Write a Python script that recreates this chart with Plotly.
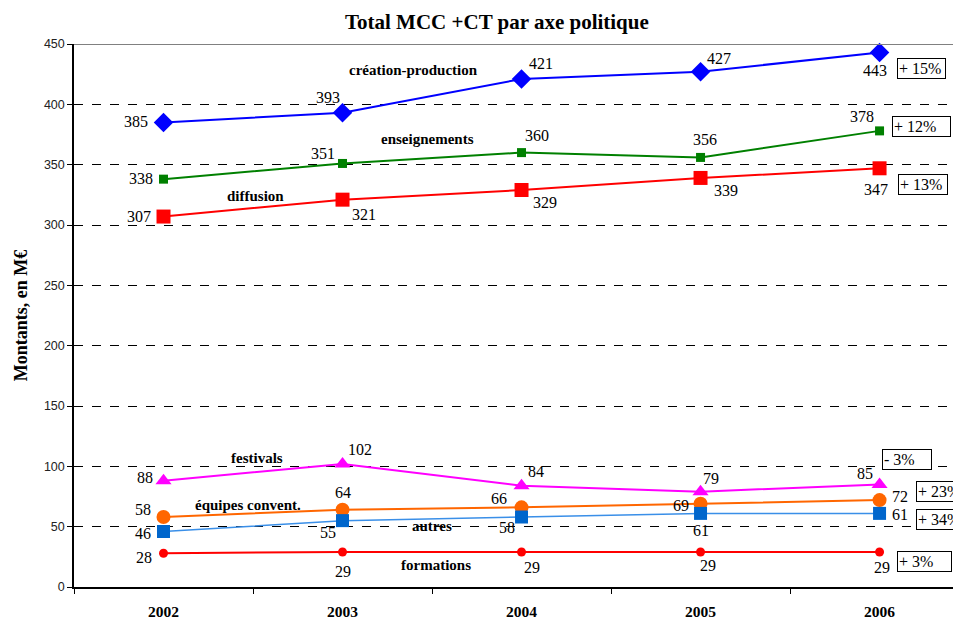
import plotly.graph_objects as go

years = ["2002", "2003", "2004", "2005", "2006"]

creation = [385, 393, 421, 427, 443]
enseignements = [338, 351, 360, 356, 378]
diffusion = [307, 321, 329, 339, 347]
festivals = [88, 102, 84, 79, 85]
equipes = [58, 64, 66, 69, 72]
autres = [46, 55, 58, 61, 61]
formations = [28, 29, 29, 29, 29]

series_names = ["création-production", "enseignements", "diffusion", "festivals",
                "équipes convent.", "autres", "formations"]
pct_labels = ["+ 15%", "+ 12%", "+ 13%", "- 3%", "+ 23%", "+ 34%", "+ 3%"]
y_ticks = [0, 50, 100, 150, 200, 250, 300, 350, 400, 450]

SERIF = "Liberation Serif, Times New Roman, serif"

fig = go.Figure()

styles = [
    (creation, "#0000FF", "#0000FF", 2, "diamond", 15),
    (enseignements, "#008000", "#008000", 2, "square", 9),
    (diffusion, "#FF0000", "#FF0000", 2, "square", 14),
    (festivals, "#FF00FF", "#FF00FF", 2, "triangle-up", 14),
    (equipes, "#FF6600", "#FF6600", 2, "circle", 14),
    (autres, "#3A8FE8", "#0066CC", 1.5, "square", 13),
    (formations, "#FF0000", "#FF0000", 2, "circle", 9),
]
data_list = [s[0] for s in styles]
for name, (vals, lc, mc, lw, sym, ms) in zip(series_names, styles):
    fig.add_trace(go.Scatter(
        x=years, y=vals, mode="lines+markers", name=name,
        line=dict(color=lc, width=lw),
        marker=dict(color=mc, symbol=sym, size=ms, line=dict(width=0)),
        showlegend=False, cliponaxis=False,
    ))

# value label offsets (pixels, dx right, dy down)
offsets = [
    [(-28, -1), (-15, -15), (19, -15), (18, -13), (-5, 18)],
    [(-23, -1), (-20, -10), (15, -17), (4, -18), (-18, -14)],
    [(-25, 0), (21, 15), (23, 12), (25, 13), (-4, 21)],
    [(-19, -3), (17, -14), (14, -14), (10, -13), (-15, -11)],
    [(-21, -8), (0, -17), (-23, -9), (-20, 2), (20, -4)],
    [(-21, 2), (-15, 12), (-15, 10), (0, 17), (20, 1)],
    [(-20, 4), (0, 19), (10, 15), (7, 13), (2, 15)],
]
for vals, offs in zip(data_list, offsets):
    for i, (v, (dx, dy)) in enumerate(zip(vals, offs)):
        fig.add_annotation(x=i, y=v, xref="x", yref="y", text=str(v), showarrow=False,
                           xshift=dx, yshift=-dy,
                           font=dict(family=SERIF, size=16, color="black"))

# series name labels (anchored to a year/value with pixel offsets: dx right, yshift up)
name_anchor = [
    (2, 421, -108, 9), (2, 360, -94, 14), (0, 307, 92, 21), (0, 88, 93, 23),
    (0, 58, 84, 12), (2, 58, -90, -9), (2, 29, -86, -13),
]
for name, (i, v, dx, dy) in zip(series_names, name_anchor):
    fig.add_annotation(x=i, y=v, xref="x", yref="y", text="<b>" + name + "</b>",
                       showarrow=False, xshift=dx, yshift=dy,
                       font=dict(family=SERIF, size=15, color="black"))

# percentage boxes anchored to the 2006 values
pct_offsets = [(42, 16, "center", 45), (42, -4, "center", 55), (43, 16, "center", 46),
               (27, -25, "center", 46), (36, -9, "left", 50), (36, 6, "left", 50),
               (45, 9, "center", 51)]
for lab, vals, (dx, dy, anc, w) in zip(pct_labels, data_list, pct_offsets):
    fig.add_annotation(x=len(years) - 1, y=vals[-1], xref="x", yref="y", text=lab,
                       showarrow=False, xshift=dx, yshift=-dy, xanchor=anc,
                       width=w, align="left",
                       bgcolor="white", bordercolor="black", borderwidth=1, borderpad=1,
                       font=dict(family=SERIF, size=16, color="black"))

# top border of the plot area
fig.add_shape(type="line", xref="paper", yref="y", x0=0, x1=1, y0=450, y1=450,
              line=dict(color="#808080", width=2))

fig.update_layout(
    width=953, height=611,
    margin=dict(l=66, r=0, t=36, b=32, autoexpand=False),
    paper_bgcolor="white", plot_bgcolor="white",
    title=dict(text="<b>Total MCC +CT par axe politique</b>", x=0.513, xanchor="center",
               y=0.977, yanchor="middle",
               font=dict(family=SERIF, size=21, color="black")),
    xaxis=dict(type="category", range=[-0.5, 4.455], showgrid=False, automargin=False,
               showline=True, linecolor="black", linewidth=1.5,
               ticks="outside", ticklen=5, tickcolor="black", tickson="boundaries",
               ticklabelstandoff=10,
               tickfont=dict(family=SERIF, size=15.5, color="black", weight="bold")),
    yaxis=dict(range=[0, 450], tickvals=y_ticks, showgrid=True, gridcolor="black",
               griddash="dash", gridwidth=1, zeroline=False, automargin=False,
               showline=True, linecolor="black", linewidth=1.5,
               ticks="outside", ticklen=5, tickcolor="black",
               tickfont=dict(family="Liberation Sans, Arial, sans-serif", size=12.5, color="#222"),
               title=dict(text="<b>Montants, en M€</b>", standoff=12,
                          font=dict(family=SERIF, size=18, color="black"))),
)

fig.write_html("out.html")
